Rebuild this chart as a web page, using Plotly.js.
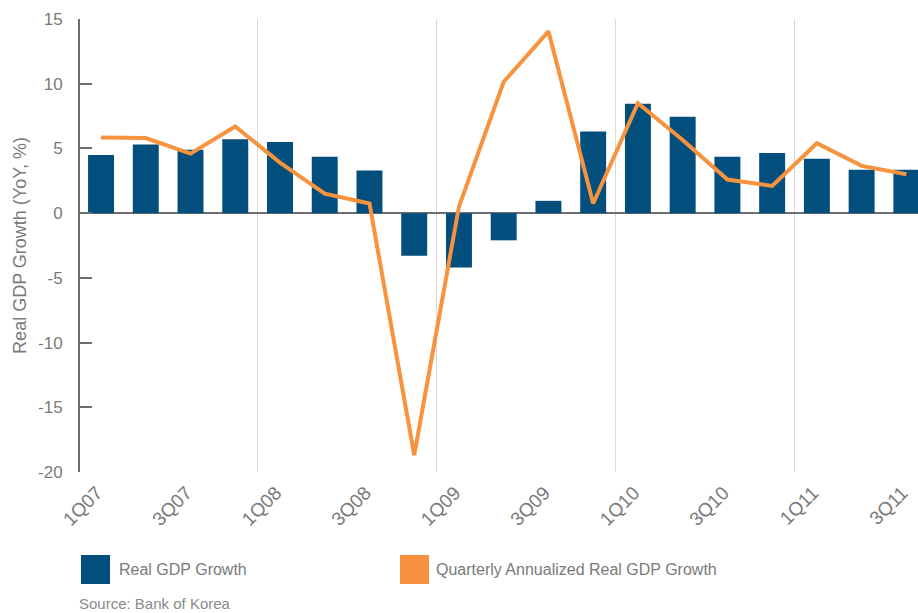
<!DOCTYPE html>
<html>
<head>
<meta charset="utf-8">
<script src="https://cdn.plot.ly/plotly-3.0.1.min.js"></script>
<style>
  html, body { margin: 0; padding: 0; background: #fff; }
  #chart { width: 918px; height: 613px; }
</style>
</head>
<body>
<div id="chart"></div>
<script>
// quarters 1Q07 .. 3Q11
const quarters = ["1Q07", "2Q07", "3Q07", "4Q07", "1Q08", "2Q08", "3Q08", "4Q08",
  "1Q09", "2Q09", "3Q09", "4Q09", "1Q10", "2Q10", "3Q10", "4Q10", "1Q11", "2Q11", "3Q11"];

// Real GDP growth, YoY %
const realGdpGrowth = [4.5, 5.3, 4.9, 5.7, 5.5, 4.35, 3.3, -3.3,
  -4.2, -2.1, 0.95, 6.3, 8.45, 7.45, 4.35, 4.65, 4.2, 3.35, 3.35];

// Quarterly annualized real GDP growth, %
const annualizedGrowth = [5.85, 5.8, 4.6, 6.7, 3.9, 1.5, 0.75, -18.7,
  0.5, 10.15, 14.05, 0.75, 8.5, 5.65, 2.6, 2.1, 5.4, 3.65, 3.0];

const tickLabels = ["1Q07", "3Q07", "1Q08", "3Q08", "1Q09", "3Q09", "1Q10", "3Q10", "1Q11", "3Q11"];
const yTicks = [-20, -15, -10, -5, 0, 5, 10, 15];

const BLUE = "#024e7c";
const ORANGE = "#f7933e";
const AXIS = "#6d6e71";
const TEXT = "#7a7a7a";
const FONT = "Liberation Sans, Arial, sans-serif";

const idx = quarters.map((q, i) => i);
const tickIdx = tickLabels.map(t => quarters.indexOf(t));

// plot area in pixels: x 80..918, y 19..472
const px = x => (x - 80) / 838;
const py = y => (472 - y) / 453;

const bars = {
  x: idx, y: realGdpGrowth, type: "bar", name: "Real GDP Growth",
  marker: { color: BLUE }, width: 0.58, hoverinfo: "y"
};

const line = {
  x: idx, y: annualizedGrowth, type: "scatter", mode: "lines",
  name: "Quarterly Annualized Real GDP Growth",
  line: { color: ORANGE, width: 4 }, hoverinfo: "y"
};

const layout = {
  width: 918, height: 613,
  margin: { l: 80, r: 0, t: 19, b: 141 },
  paper_bgcolor: "#fff", plot_bgcolor: "#fff",
  font: { family: FONT, color: TEXT },
  showlegend: false,
  xaxis: {
    range: [-0.47, 18.26],
    tickmode: "array", tickvals: tickIdx, ticktext: tickLabels,
    tickangle: -45, tickfont: { size: 19, color: TEXT },
    ticklabelstandoff: 5, ticklabelshift: -4,
    ticks: "", showgrid: false, zeroline: false, showline: false,
    minor: { tickmode: "linear", tick0: 3.5, dtick: 4, showgrid: true,
             gridcolor: "#d9d9d9", gridwidth: 1.5, ticks: "" }
  },
  yaxis: {
    range: [-20, 15],
    tickmode: "array", tickvals: yTicks, ticktext: yTicks.map(String),
    ticks: "inside", ticklen: 12, tickwidth: 2, tickcolor: AXIS,
    showline: true, linecolor: AXIS, linewidth: 2,
    zeroline: true, zerolinecolor: AXIS, zerolinewidth: 2,
    showgrid: false, ticklabelstandoff: 12,
    tickfont: { size: 17, color: TEXT },
    title: { text: "Real GDP Growth (YoY, %)", standoff: 7,
             font: { size: 18, color: TEXT } }
  },
  shapes: [
    { type: "rect", xref: "paper", yref: "paper", x0: px(81), x1: px(110), y0: py(584), y1: py(555),
      fillcolor: BLUE, line: { width: 0 } },
    { type: "rect", xref: "paper", yref: "paper", x0: px(400), x1: px(429), y0: py(584), y1: py(555),
      fillcolor: ORANGE, line: { width: 0 } }
  ],
  annotations: [
    { xref: "paper", yref: "paper", x: px(117), y: py(569), xanchor: "left", yanchor: "middle",
      text: "Real GDP Growth", showarrow: false, font: { size: 16, color: TEXT } },
    { xref: "paper", yref: "paper", x: px(434), y: py(569), xanchor: "left", yanchor: "middle",
      text: "Quarterly Annualized Real GDP Growth", showarrow: false, font: { size: 16, color: TEXT } },
    { xref: "paper", yref: "paper", x: px(77), y: py(603), xanchor: "left", yanchor: "middle",
      text: "Source: Bank of Korea", showarrow: false, font: { size: 15, color: "#8a8a8a" } }
  ]
};

Plotly.newPlot("chart", [bars, line], layout, { displayModeBar: false, staticPlot: true });
</script>
</body>
</html>
